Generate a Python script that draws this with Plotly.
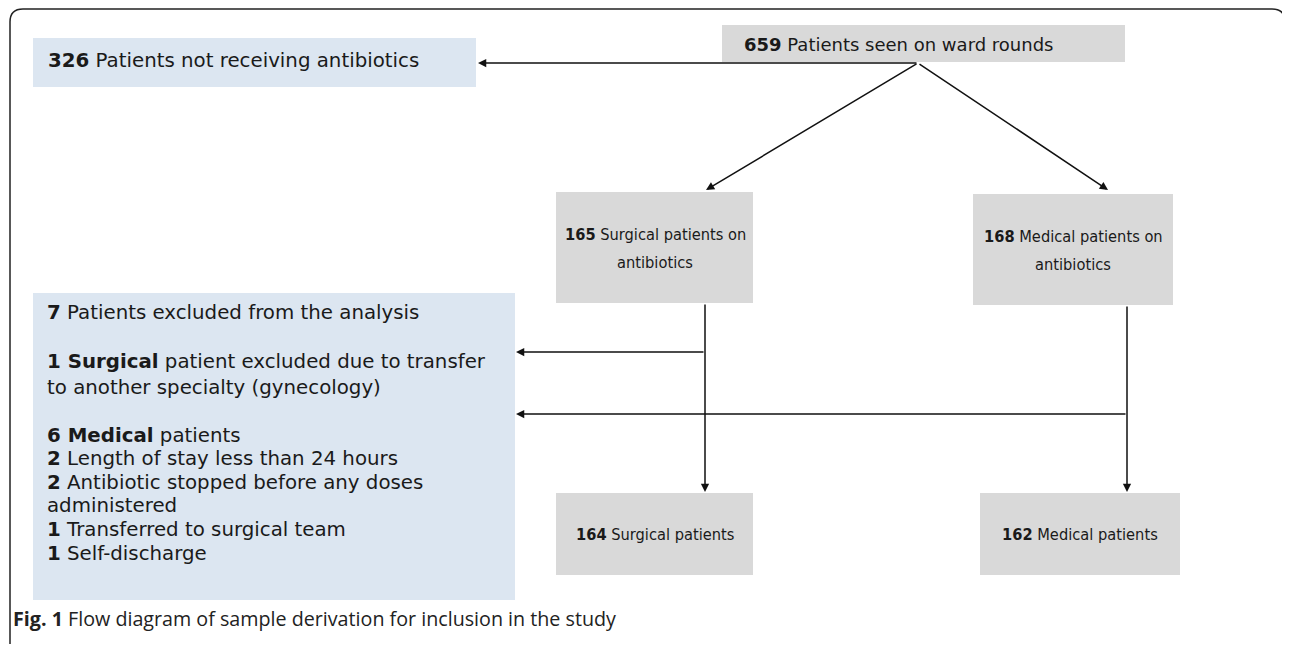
import plotly.graph_objects as go

# ---- data ----
n_seen = 659
n_not_receiving = 326
n_surgical_ab = 165
n_medical_ab = 168
n_surgical_final = 164
n_medical_final = 162
n_excluded = 7
n_excl_surgical = 1
n_excl_medical = 6
excl_medical_reasons = ["Length of stay less than 24 hours",
                        "Antibiotic stopped before any doses",
                        "Transferred to surgical team",
                        "Self-discharge"]
excl_medical_counts = [2, 2, 1, 1]
caption_label = "Fig. 1"
caption_text = "Flow diagram of sample derivation for inclusion in the study"

GREY = "#d9d9d9"
BLUE = "#dce6f1"
TXT = "#1a1a1a"
VERD = "DejaVu Sans, Verdana, sans-serif"
COND = "DejaVu Sans Condensed, DejaVu Sans, sans-serif"

fig = go.Figure()
shapes = []
annots = []


def box(x0, x1, y0, y1, color):
    shapes.append(dict(type="rect", xref="x", yref="y", x0=x0, x1=x1, y0=y0, y1=y1,
                       fillcolor=color, line=dict(width=0), layer="below"))


def text(x, y, s, size, family, xanchor="center", align="center"):
    annots.append(dict(x=x, y=y, xref="x", yref="y", text=s, showarrow=False,
                       xanchor=xanchor, yanchor="middle", align=align,
                       font=dict(size=size, family=family, color=TXT)))


def arrow(x0, y0, x1, y1):
    annots.append(dict(x=x1, y=y1, ax=x0, ay=y0, xref="x", yref="y", axref="x", ayref="y",
                       text="", showarrow=True, arrowhead=2, arrowsize=1.1, arrowwidth=1.5,
                       arrowcolor="#111111", standoff=0, startstandoff=0))


# outer frame
shapes.append(dict(type="path", xref="x", yref="y",
                   path="M 10,644 L 10,22 Q 10,9 23,9 L 1272,9 Q 1284,9 1285,20",
                   line=dict(color="#222222", width=1.5)))

# boxes
box(33, 476, 38, 87, BLUE)
box(722, 1125, 25, 62, GREY)
box(556, 753, 192, 303, GREY)
box(973, 1173, 194, 305, GREY)
box(556, 753, 493, 575, GREY)
box(980, 1180, 493, 575, GREY)
box(33, 515, 293, 600, BLUE)

# box texts
text(46, 60, f"<b>{n_not_receiving}</b> Patients not receiving antibiotics", 19.8, VERD, xanchor="left", align="left")
text(899, 44, f"<b>{n_seen}</b> Patients seen on ward rounds", 18, VERD)
text(655, 234, f"<b>{n_surgical_ab}</b> Surgical patients on", 16.3, COND)
text(655, 262, "antibiotics", 16.3, COND)
text(1073, 236, f"<b>{n_medical_ab}</b> Medical patients on", 16.3, COND)
text(1073, 264, "antibiotics", 16.3, COND)
text(655, 534, f"<b>{n_surgical_final}</b> Surgical patients", 16.3, COND)
text(1080, 534, f"<b>{n_medical_final}</b> Medical patients", 16.3, COND)

# excluded box text (one annotation per line)
excl_lines = [
    (312, f"<b>{n_excluded}</b> Patients excluded from the analysis"),
    (361, f"<b>{n_excl_surgical} Surgical</b> patient excluded due to transfer"),
    (387, "to another specialty (gynecology)"),
    (435, f"<b>{n_excl_medical} Medical</b> patients"),
    (458, f"<b>{excl_medical_counts[0]}</b> {excl_medical_reasons[0]}"),
    (482, f"<b>{excl_medical_counts[1]}</b> {excl_medical_reasons[1]}"),
    (505, "administered"),
    (529, f"<b>{excl_medical_counts[2]}</b> {excl_medical_reasons[2]}"),
    (553, f"<b>{excl_medical_counts[3]}</b> {excl_medical_reasons[3]}"),
]
for yy, s in excl_lines:
    text(45, yy, s, 19.8, VERD, xanchor="left", align="left")

# arrows
arrow(918, 63, 478, 63)
arrow(918, 63, 706, 190)
arrow(918, 63, 1108, 190)
arrow(705, 303, 705, 492)
arrow(1127, 305, 1127, 492)
arrow(705, 352, 516, 352)
arrow(1127, 414, 516, 414)

# caption
annots.append(dict(x=11, y=618, xref="x", yref="y", showarrow=False, xanchor="left", yanchor="middle",
                   text=f"<b>{caption_label}</b> {caption_text}",
                   font=dict(size=19.7, family="Open Sans, sans-serif", color="#222222")))

fig.update_layout(
    width=1290, height=647,
    margin=dict(l=0, r=0, t=0, b=0),
    paper_bgcolor="white", plot_bgcolor="white",
    xaxis=dict(range=[8, 1298], visible=False, fixedrange=True),
    yaxis=dict(range=[655, 8], visible=False, fixedrange=True),
    shapes=shapes, annotations=annots, showlegend=False,
)
fig.write_html("out.html")
